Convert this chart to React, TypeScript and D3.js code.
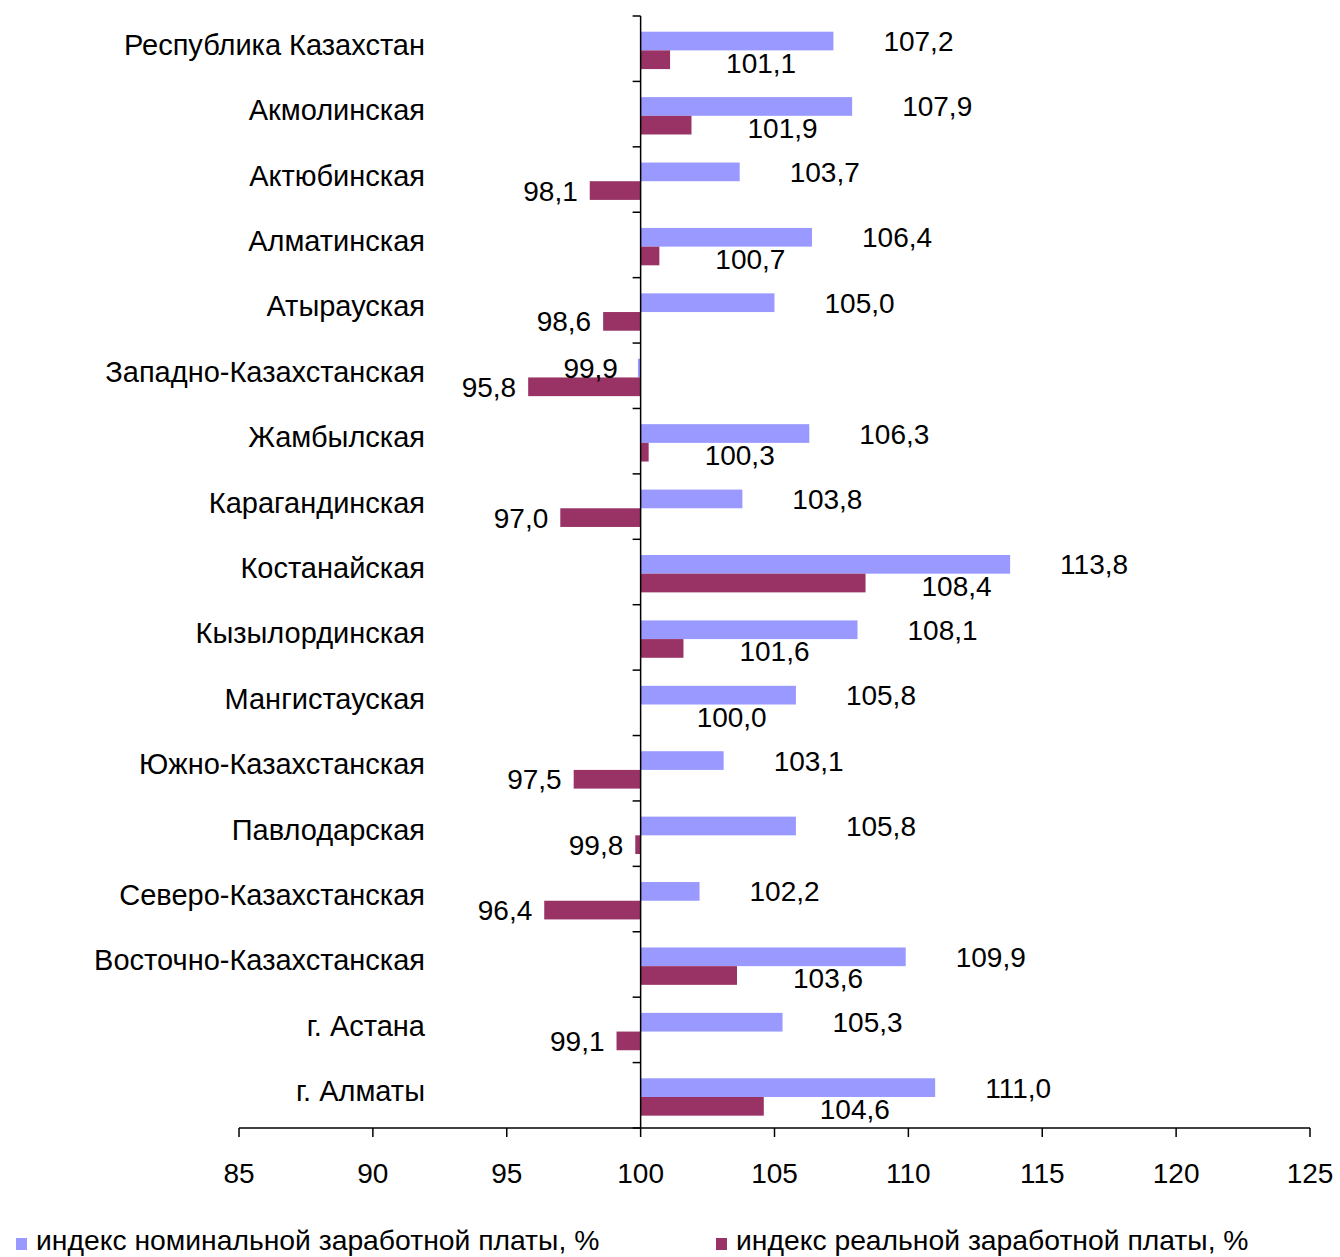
import * as d3 from "d3";

const W = 1340;
const H = 1257;

// regions, top to bottom
const categories = [
  "Республика Казахстан",
  "Акмолинская",
  "Актюбинская",
  "Алматинская",
  "Атырауская",
  "Западно-Казахстанская",
  "Жамбылская",
  "Карагандинская",
  "Костанайская",
  "Кызылординская",
  "Мангистауская",
  "Южно-Казахстанская",
  "Павлодарская",
  "Северо-Казахстанская",
  "Восточно-Казахстанская",
  "г. Астана",
  "г. Алматы",
];

// индекс номинальной заработной платы, %
const nominal = [107.2, 107.9, 103.7, 106.4, 105.0, 99.9, 106.3, 103.8, 113.8, 108.1, 105.8, 103.1, 105.8, 102.2, 109.9, 105.3, 111.0];
// индекс реальной заработной платы, %
const real = [101.1, 101.9, 98.1, 100.7, 98.6, 95.8, 100.3, 97.0, 108.4, 101.6, 100.0, 97.5, 99.8, 96.4, 103.6, 99.1, 104.6];

const xTicks = [85, 90, 95, 100, 105, 110, 115, 120, 125];
const seriesNames = ["индекс номинальной заработной платы, %", "индекс реальной заработной платы, %"];
const COLORS = ["#9999FF", "#993366"];
const FONT = "Arial, 'Liberation Sans', sans-serif";

const fmt = (v: number) => v.toFixed(1).replace(".", ",");

export default function App() {
  const x = d3.scaleLinear().domain([85, 125]).range([239, 1310]);
  const y = d3.scaleBand<string>().domain(categories).range([16, 1128]);
  const inner = d3
    .scaleBand<string>()
    .domain(["nom", "real"])
    .range([0, y.bandwidth()])
    .paddingOuter(0.75)
    .align(0.56);
  const x0 = x(100);
  const bh = inner.bandwidth();
  const step = y.step();
  const boundaries = d3.range(categories.length + 1).map((i) => 16 + i * step);

  return (
    <svg width={W} height={H} style={{ position: "absolute", left: 0, top: 0, background: "#fff" }} fontFamily={FONT}>
      {/* bars */}
      {categories.map((c, i) => {
        const yb = y(c)!;
        const vn = nominal[i];
        const vr = real[i];
        const yn = yb + inner("nom")!;
        const yr = yb + inner("real")!;
        return (
          <g key={c}>
            <rect x={Math.min(x0, x(vn))} y={yn} width={Math.abs(x(vn) - x0)} height={bh} fill={COLORS[0]} />
            <rect x={Math.min(x0, x(vr))} y={yr} width={Math.abs(x(vr) - x0)} height={bh} fill={COLORS[1]} />
          </g>
        );
      })}

      {/* y axis at 100 */}
      <line x1={x0} x2={x0} y1={16} y2={1128} stroke="#000" strokeWidth={1.5} />
      {boundaries.map((b, i) => (
        <line key={i} x1={x0 - 8} x2={x0} y1={b} y2={b} stroke="#000" strokeWidth={1.5} />
      ))}

      {/* x axis */}
      <line x1={x(85)} x2={x(125)} y1={1128} y2={1128} stroke="#000" strokeWidth={1.5} />
      {xTicks.map((t) => (
        <g key={t}>
          <line x1={x(t)} x2={x(t)} y1={1128} y2={1137} stroke="#000" strokeWidth={1.5} />
          <text x={x(t)} y={1183} textAnchor="middle" fontSize={28} fill="#000">
            {t}
          </text>
        </g>
      ))}

      {/* category labels */}
      {categories.map((c) => (
        <text key={c} x={425} y={y(c)! + step / 2 + 6} textAnchor="end" fontSize={29} fill="#000">
          {c}
        </text>
      ))}

      {/* data labels */}
      {categories.map((c, i) => {
        const yb = y(c)!;
        const vn = nominal[i];
        const vr = real[i];
        const cn = yb + inner("nom")! + bh / 2;
        const cr = yb + inner("real")! + bh / 2;
        return (
          <g key={c} fontSize={28} fill="#000">
            <text
              x={vn >= 100 ? x(vn) + 50 : x(vn) - 20}
              y={cn + 10}
              textAnchor={vn >= 100 ? "start" : "end"}
            >
              {fmt(vn)}
            </text>
            <text
              x={vr >= 100 ? x(vr) + 56 : x(vr) - 12}
              y={vr >= 100 ? cr + 13 : cr + 10}
              textAnchor={vr >= 100 ? "start" : "end"}
            >
              {fmt(vr)}
            </text>
          </g>
        );
      })}

      {/* legend */}
      {seriesNames.map((s, i) => {
        const lx = i === 0 ? 16 : 716;
        return (
          <g key={s}>
            <rect x={lx} y={1238} width={11} height={12} fill={COLORS[i]} />
            <text x={lx + 20} y={1250} fontSize={28.3} fill="#000">
              {s}
            </text>
          </g>
        );
      })}
    </svg>
  );
}
